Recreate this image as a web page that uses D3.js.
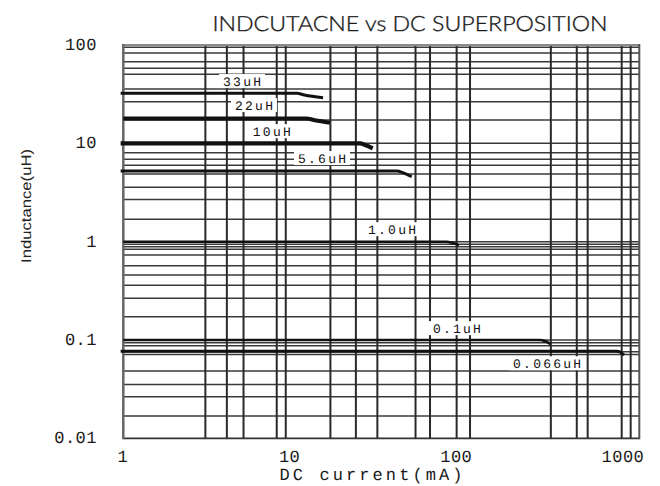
<!DOCTYPE html>
<html>
<head>
<meta charset="utf-8">
<script src="https://d3js.org/d3.v7.min.js"></script>
<style>
  html,body{margin:0;padding:0;background:#fff;}
  svg{display:block;}
  text{text-rendering:geometricPrecision;}
</style>
</head>
<body>
<script>
// ---- Data ----
const chartTitle = "INDCUTACNE vs DC SUPERPOSITION";
const xTitle = "DC current(mA)";
const yTitle = "Inductance(uH)";
const xTickValues = [1, 10, 100, 1000];
const xTickLabels = ["1", "10", "100", "1000"];
const yTickValues = [100, 10, 1, 0.1, 0.01];
const yTickLabels = ["100", "10", "1", "0.1", "0.01"];
// vertical grid lines (mA) as drawn on the reference grid
const xGrid = [3, 4, 5, 7.8, 8.8, 16, 22.5, 30, 50, 60.7, 86.7, 103.7, 306, 433, 501, 790, 891];
// horizontal grid lines (uH) as drawn on the reference grid
const yGrid = [95, 83, 67.6, 58, 50.4, 35.7, 26.5, 17.3, 10,
               8.0, 6.9, 6.0, 4.88, 3.57, 2.69, 1.69, 1,
               0.94, 0.887, 0.835, 0.73, 0.569, 0.457, 0.361, 0.265, 0.172, 0.1,
               0.0936, 0.0873, 0.0758, 0.0713, 0.0483, 0.0353, 0.0264, 0.0169];
// curves: [current mA, inductance uH]
const seriesNames = ["33uH", "22uH", "10uH", "5.6uH", "1.0uH", "0.1uH", "0.066uH"];
const curve33  = [[0.965, 32.3], [10.2, 32.3], [11.3, 31.0], [14.5, 29.1]];
const curve22  = [[1, 17.9], [11.6, 17.9], [13, 17.2], [15.9, 16.2]];
const curve10  = [[0.965, 10], [23.8, 10], [25.5, 9.6], [28.2, 8.9]];
const curve5_6 = [[0.965, 5.23], [38.9, 5.23], [42.5, 5.0], [47.5, 4.57]];
const curve1_0 = [[1, 1.0], [76, 1.0], [82, 0.97], [89.5, 0.923]];
const curve0_1 = [[1, 0.1], [262, 0.1], [284, 0.097], [305, 0.0908]];
const curve066 = [[0.965, 0.077], [739, 0.077], [780, 0.075], [815, 0.0702]];
// label anchor (mA, uH) for each curve name
const labelCurrent    = [4.9, 5.75, 7.3, 14.3, 36.5, 87, 291];
const labelInductance = [43, 24.5, 13.3, 7.08, 1.34, 0.132, 0.058];

const curves = [curve33, curve22, curve10, curve5_6, curve1_0, curve0_1, curve066];
const curveWidths = [3, 4, 4.2, 3, 2.5, 2.5, 3];

// ---- Chart ----
const W = 660, H = 486;
const svg = d3.select("body").append("svg").attr("width", W).attr("height", H);

const x = d3.scaleLog().domain([1, 1000]).range([123.3, 639.3]);
const y = d3.scaleLog().domain([0.01, 100]).range([438.3, 45]);

const monoFont = "'Liberation Mono', 'DejaVu Sans Mono', monospace";

// grid horizontal
svg.append("g").selectAll("line").data(yGrid).join("line")
  .attr("x1", x(1)).attr("x2", x(1000))
  .attr("y1", d => y(d)).attr("y2", d => y(d))
  .attr("stroke", "#3a3a3a").attr("stroke-width", 1.5);

// grid vertical
svg.append("g").selectAll("line").data(xGrid).join("line")
  .attr("x1", d => x(d)).attr("x2", d => x(d))
  .attr("y1", y(100)).attr("y2", y(0.01))
  .attr("stroke", "#2a2a2a").attr("stroke-width", 2);

// frame
svg.append("line").attr("x1", x(1)).attr("x2", x(1000)).attr("y1", y(100)).attr("y2", y(100))
  .attr("stroke", "#8a8a8a").attr("stroke-width", 2);
svg.append("line").attr("x1", x(1)).attr("x2", x(1000)).attr("y1", y(0.01)).attr("y2", y(0.01))
  .attr("stroke", "#333").attr("stroke-width", 1.8);
svg.append("line").attr("x1", x(1)).attr("x2", x(1)).attr("y1", y(100) - 1).attr("y2", y(0.01) + 1)
  .attr("stroke", "#666").attr("stroke-width", 2.5);
svg.append("line").attr("x1", x(1000)).attr("x2", x(1000)).attr("y1", y(100) - 1).attr("y2", y(0.01) + 1)
  .attr("stroke", "#555").attr("stroke-width", 2);

// curves
const line = d3.line().x(d => x(d[0])).y(d => y(d[1])).curve(d3.curveMonotoneX);
svg.append("g").selectAll("path").data(curves).join("path")
  .attr("d", d => line(d))
  .attr("fill", "none").attr("stroke", "#111")
  .attr("stroke-width", (d, i) => curveWidths[i]);

// curve labels with white boxes
const lg = svg.append("g");
seriesNames.forEach((name, i) => {
  const cx = x(labelCurrent[i]), cy = y(labelInductance[i]);
  const w = name.length * 10;
  lg.append("rect").attr("x", cx - w / 2 - 3).attr("y", cy - 7).attr("width", w + 6).attr("height", 14)
    .attr("fill", "#fff");
  lg.append("text").attr("x", cx).attr("y", cy + 4.5)
    .attr("text-anchor", "middle")
    .attr("font-family", monoFont)
    .attr("font-size", 13).attr("fill", "#111")
    .attr("textLength", w - 2).attr("lengthAdjust", "spacing")
    .text(name);
});

// x tick labels
svg.append("g").selectAll("text").data(xTickValues).join("text")
  .attr("x", d => x(d) + 5).attr("y", 462)
  .attr("text-anchor", "end")
  .attr("font-family", monoFont).attr("font-size", 17)
  .attr("letter-spacing", 0.5).attr("fill", "#1a1a1a")
  .text((d, i) => xTickLabels[i]);

// y tick labels
svg.append("g").selectAll("text").data(yTickValues).join("text")
  .attr("x", 97).attr("y", d => y(d) + 5)
  .attr("text-anchor", "end")
  .attr("font-family", monoFont).attr("font-size", 17)
  .attr("letter-spacing", 0.5).attr("fill", "#1a1a1a")
  .text((d, i) => yTickLabels[i]);

// x title
svg.append("text").attr("x", 371).attr("y", 480)
  .attr("text-anchor", "middle")
  .attr("font-family", monoFont).attr("font-size", 17)
  .attr("fill", "#1a1a1a").attr("textLength", 183).attr("lengthAdjust", "spacing")
  .text(xTitle);

// y title
svg.append("text").attr("transform", "translate(31,206) rotate(-90)")
  .attr("text-anchor", "middle")
  .attr("font-family", "'Liberation Sans Narrow', 'Liberation Sans', sans-serif").attr("font-size", 14)
  .attr("fill", "#222").attr("textLength", 114).attr("lengthAdjust", "spacingAndGlyphs")
  .text(yTitle);

// chart title
svg.append("text").attr("x", 410).attr("y", 31)
  .attr("text-anchor", "middle")
  .attr("font-family", "Lato, 'Open Sans', sans-serif").attr("font-size", 21)
  .attr("font-weight", 300)
  .attr("fill", "#1a1a1a").attr("stroke", "#1a1a1a").attr("stroke-width", 0.35)
  .attr("textLength", 395).attr("lengthAdjust", "spacingAndGlyphs")
  .text(chartTitle);
</script>
</body>
</html>
